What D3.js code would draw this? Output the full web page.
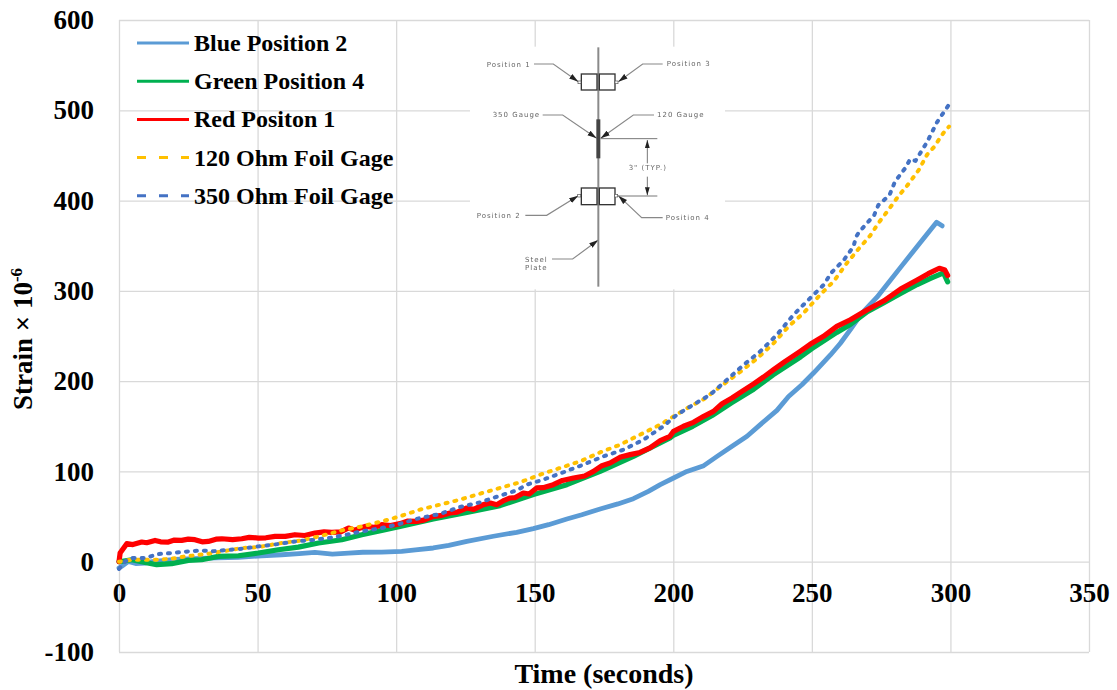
<!DOCTYPE html>
<html>
<head>
<meta charset="utf-8">
<script src="https://cdnjs.cloudflare.com/ajax/libs/d3/7.8.5/d3.min.js"></script>
<style>
    html, body { margin: 0; padding: 0; background: #fff; }
    text { font-family: "Liberation Serif", serif; font-weight: bold; fill: #000; }
    .inset text { font-family: "DejaVu Sans", sans-serif; font-weight: normal; fill: #666; }
</style>
</head>
<body>
<div id="chart"></div>
<script>
const xTicks = [0, 50, 100, 150, 200, 250, 300, 350];
const yTicks = [-100, 0, 100, 200, 300, 400, 500, 600];

const blueTime = [0, 1, 3.4, 6, 9.4, 12, 16.6, 20, 25, 32, 43, 51.5, 58.7, 65, 70.7, 77, 82.8, 88, 94.8, 102, 107, 113.4, 119, 125.5, 135.1, 143.5, 149.5, 155, 161.6, 167, 173.6, 180, 185.6, 191, 195.3, 200.1, 204.9, 211, 215.8, 221.2, 226.6, 231.4, 237.4, 241.6, 246.4, 250.6, 256.7, 260.3, 263.9, 268, 273.5, 282, 289, 295, 297];
const blueStrain = [-7, -5, 0.4, -2, -1.5, 0, 1.5, 2.5, 3, 4, 4.8, 6.6, 7.7, 9, 10.3, 8.5, 9.6, 10.5, 10.7, 11.4, 13, 15.2, 18, 22.6, 28.2, 32.6, 36.6, 41, 47.3, 52, 58.4, 64, 69.8, 78, 85.4, 92.7, 100, 106.4, 116.7, 127.8, 138.9, 151.8, 167.6, 183, 196, 209, 229, 242, 257, 275, 293, 326, 353, 376, 372];

const redTime = [0, 0.4, 2.8, 5, 8.2, 10, 13, 15, 17.8, 20, 22.6, 25, 27.4, 30, 32.2, 35, 37.1, 41, 44.3, 47, 50.3, 53, 56.3, 60, 63.5, 67, 70.7, 74, 76.8, 80, 82.8, 85, 88.8, 92, 94.8, 98, 101.4, 104, 107.4, 110, 113.4, 116, 119.4, 122, 125.5, 128, 131.5, 134, 136.3, 139, 141.1, 143, 145.9, 148, 150.7, 153, 156.7, 160, 164, 168, 171.2, 174, 177.2, 181, 184.4, 188, 191.6, 195.3, 198.8, 200.1, 203.7, 207.3, 211, 214.5, 217.6, 221.2, 224.8, 229, 232.6, 236.2, 240.4, 245.8, 250, 254.2, 259, 263.9, 270, 276, 282, 288, 292, 296, 298, 299];
const redStrain = [0, 9.6, 20, 19, 21.8, 21, 23.6, 22, 21.8, 24, 23.6, 25, 24.4, 22, 22.5, 25, 25.4, 24.5, 25.4, 27, 26.2, 26.5, 28, 28, 29.9, 29, 31.7, 33, 32.5, 33, 37.3, 35, 39.1, 38, 41, 40, 42.2, 45, 44.7, 46, 50.3, 51, 54, 55, 59.5, 58, 63.2, 65, 63.2, 68, 70.6, 71, 76.1, 75, 81.7, 82, 85.3, 90, 92.7, 95, 100, 106, 109.3, 116, 118.6, 121, 126, 134, 138.9, 144.4, 150, 154.4, 161, 166.5, 175, 181.3, 188.7, 197, 204.6, 212.7, 221.9, 233, 242, 249.6, 260.6, 268, 279, 289, 302, 312, 319, 325, 323, 317];

const greenTime = [0, 4.6, 9.4, 13.6, 19, 25, 29.8, 35.9, 43.1, 50.3, 57.5, 64.7, 72, 80.4, 87.6, 94.8, 101.4, 113.4, 125.5, 137.5, 149.5, 161.6, 173.6, 185.6, 198.8, 200, 207, 214, 221, 229, 236, 246, 250, 259, 264, 270, 276, 282, 288, 293, 297.5, 299];
const greenStrain = [0, 2.2, -0.7, -3.3, -2.2, 1.5, 2.2, 5.9, 6.6, 9.6, 13.3, 16.2, 20.7, 24.3, 29.9, 34.7, 39, 47.3, 54.7, 62.1, 74.3, 85.3, 100, 116.7, 137, 140, 150, 162, 176, 191, 207, 227, 236, 254, 263, 277, 287, 297, 307, 314, 320, 310];

const yellowTime = [0, 4.6, 13.6, 19, 23.8, 27.4, 32.2, 37.1, 44.3, 50.3, 58.7, 65.9, 73.2, 80.4, 87.6, 94.8, 101.4, 108.6, 115.8, 123, 130.3, 137.5, 144.7, 151.9, 159.1, 166.4, 173.6, 180.8, 188, 195.3, 200.1, 206.1, 211, 217, 223.6, 230.2, 236.2, 241.6, 247, 253, 258, 262.7, 267, 271, 274, 277.7, 281, 284.5, 288.6, 291.6, 294, 297.5, 299.5];
const yellowStrain = [0, 2.2, 2.2, 3.3, 5.9, 7, 8.8, 11.4, 15.1, 16.2, 20.7, 23.6, 28.8, 34.7, 39.1, 44.6, 50.3, 57.7, 63.2, 68.7, 75.4, 81.7, 88, 96.4, 103.8, 111.2, 121.1, 129.6, 140.7, 151.8, 161, 172, 180, 194, 209, 225, 242, 260.6, 275.4, 295.7, 311, 331, 347, 361, 375, 390, 404, 417, 434, 451, 459, 475, 482];

const navyTime = [0, 2.2, 4.6, 9.4, 14.2, 19, 25, 29.8, 33.5, 37.1, 44.3, 50.3, 57.5, 63.5, 70.7, 78, 87.6, 94.8, 101.4, 108.6, 115.8, 123, 130.3, 137.5, 143.5, 147.1, 153.1, 160.3, 167.5, 174.8, 182, 189.2, 196.4, 201.3, 207.3, 213.3, 219.4, 225.4, 231.4, 237.4, 243.4, 249.4, 254.3, 257, 261.5, 265, 266, 267, 270.5, 272.5, 274, 278, 280, 283.7, 285.5, 287.4, 291.6, 293.4, 295.2, 299.4];
const navyStrain = [-8, 0.4, 4, 4, 8.5, 9.6, 11.4, 12.5, 11.4, 12.5, 14.4, 17, 19.6, 22.5, 24.3, 27.3, 33.6, 37.3, 42, 48.4, 52.9, 60.6, 65.8, 73.2, 79, 85.3, 90.9, 99, 107.5, 116.7, 124, 135, 150, 162.8, 174, 185, 201.6, 218, 233, 251.4, 273.6, 292, 306.8, 320, 334, 349, 360, 365, 377, 384, 395, 406, 421, 436, 446, 444, 465, 476, 487, 506];

const legendLabels = ['Blue Position 2', 'Green Position 4', 'Red Positon 1', '120 Ohm Foil Gage', '350 Ohm Foil Gage'];
const legendColors = ['#5b9bd5', '#00b050', '#ff0000', '#ffc000', '#4472c4'];
const legendDashes = [null, null, null, '9 13', '9 13'];

const margin = { top: 20, left: 119, bottom: 38, right: 28 };
const fullWidth = 1117;
const fullHeight = 690;
const width = fullWidth - margin.left - margin.right;
const height = fullHeight - margin.top - margin.bottom;

const svg = d3.select('#chart')
    .append('svg')
        .attr('width', fullWidth)
        .attr('height', fullHeight)
        .style('display', 'block')
    .append('g')
        .attr('transform', `translate(${margin.left}, ${margin.top})`);

const xScale = d3.scaleLinear().domain([0, 350]).range([0, width]);
const yScale = d3.scaleLinear().domain([-100, 600]).range([height, 0]);

// gridlines
const gridColor = '#d9d9d9';
const xGrid = svg.append('g')
    .call(d3.axisBottom(xScale).tickValues(xTicks).tickSize(height).tickFormat(''));
const yGrid = svg.append('g')
    .call(d3.axisLeft(yScale).tickValues(yTicks).tickSize(-width).tickFormat(''));
[xGrid, yGrid].forEach(g => {
    g.select('.domain').remove();
    g.selectAll('line').attr('stroke', gridColor).attr('stroke-width', 1.3);
});

// tick labels
const xAxis = svg.append('g')
    .attr('transform', `translate(0, ${yScale(0)})`)
    .call(d3.axisBottom(xScale).tickValues(xTicks).tickSize(0).tickPadding(21));
xAxis.select('.domain').remove();
xAxis.selectAll('text').style('font-size', '27px');

const yAxis = svg.append('g')
    .call(d3.axisLeft(yScale).tickValues(yTicks).tickSize(0).tickPadding(25).tickFormat(d => String(d)));
yAxis.select('.domain').remove();
yAxis.selectAll('text').style('font-size', '27px');

// strain gauge sketch, in units of a 3x view
const inset = svg.append('g')
    .attr('class', 'inset')
    .attr('transform', `translate(${470 - margin.left}, ${30 - margin.top}) scale(${1 / 3})`);

inset.append('rect')
    .attr('x', 0).attr('y', 50).attr('width', 765).attr('height', 728)
    .attr('fill', '#fff');

const sketch = inset.append('g').style('filter', 'blur(0.6px)');

sketch.append('marker')
    .attr('id', 'head')
    .attr('viewBox', '0 0 10 6')
    .attr('refX', 10).attr('refY', 3)
    .attr('markerWidth', 8).attr('markerHeight', 5)
    .attr('orient', 'auto')
    .append('path')
        .attr('d', 'M0,0L10,3L0,6Z')
        .attr('fill', '#222');

const leaders = [
    [[192, 102], [250, 102], [325, 155]],
    [[578, 102], [518, 102], [445, 155]],
    [[218, 255], [278, 255], [380, 325]],
    [[552, 255], [490, 255], [392, 325]],
    [[166, 556], [230, 556], [325, 497]],
    [[578, 563], [515, 563], [445, 497]],
    [[246, 687], [308, 687], [385, 630]]
];
sketch.selectAll('.leader')
    .data(leaders)
    .enter()
    .append('path')
        .attr('class', 'leader')
        .attr('d', d3.line())
        .attr('fill', 'none')
        .attr('stroke', '#888')
        .attr('stroke-width', 3.5)
        .attr('marker-end', 'url(#head)');

const dimLines = [
    [[392, 326], [562, 326]],
    [[440, 498], [562, 498]]
];
sketch.selectAll('.dim')
    .data(dimLines)
    .enter()
    .append('path')
        .attr('class', 'dim')
        .attr('d', d3.line())
        .attr('stroke', '#777')
        .attr('stroke-width', 3);

const dimArrows = [
    [[532, 400], [532, 330]],
    [[532, 440], [532, 496]]
];
sketch.selectAll('.dim-arrow')
    .data(dimArrows)
    .enter()
    .append('path')
        .attr('class', 'dim-arrow')
        .attr('d', d3.line())
        .attr('stroke', '#777')
        .attr('stroke-width', 3)
        .attr('marker-end', 'url(#head)');

sketch.append('line')
    .attr('x1', 385).attr('x2', 385).attr('y1', 52).attr('y2', 770)
    .attr('stroke', '#8a8a8a').attr('stroke-width', 6);
sketch.append('line')
    .attr('x1', 385).attr('x2', 385).attr('y1', 268).attr('y2', 385)
    .attr('stroke', '#444').attr('stroke-width', 12);

const blocks = [[334, 132], [388, 132], [334, 474], [388, 474]];
sketch.selectAll('.block')
    .data(blocks)
    .enter()
    .append('rect')
        .attr('class', 'block')
        .attr('x', d => d[0]).attr('y', d => d[1])
        .attr('width', 47).attr('height', d => d[1] < 300 ? 48 : 50)
        .attr('fill', '#fff').attr('stroke', '#333').attr('stroke-width', 4);

const pads = [[329, 157], [440, 157], [328, 497], [439, 497]];
sketch.selectAll('.pad')
    .data(pads)
    .enter()
    .append('rect')
        .attr('class', 'pad')
        .attr('x', d => d[0] - 5).attr('y', d => d[1] - 4)
        .attr('width', 9).attr('height', 8)
        .attr('fill', '#fff').attr('stroke', '#555').attr('stroke-width', 2);

const insetLabels = [
    ['Position 1', 50, 110], ['Position 3', 590, 109],
    ['350 Gauge', 68, 262], ['120 Gauge', 561, 260],
    ['3" (TYP.)', 476, 421],
    ['Position 2', 20, 563], ['Position 4', 587, 571],
    ['Steel', 165, 695], ['Plate', 165, 721]
];
sketch.selectAll('.inset-label')
    .data(insetLabels)
    .enter()
    .append('text')
        .attr('class', 'inset-label')
        .attr('x', d => d[1]).attr('y', d => d[2])
        .style('font-size', '21px')
        .style('letter-spacing', '3px')
        .text(d => d[0]);

// series
const line = d3.line()
    .x(d => xScale(d[0]))
    .y(d => yScale(d[1]));

const series = [
    { time: blueTime, strain: blueStrain, color: legendColors[0], w: 4.8, dash: null },
    { time: greenTime, strain: greenStrain, color: legendColors[1], w: 5.2, dash: null },
    { time: redTime, strain: redStrain, color: legendColors[2], w: 5.2, dash: null },
    { time: yellowTime, strain: yellowStrain, color: legendColors[3], w: 4, dash: '2 7' },
    { time: navyTime, strain: navyStrain, color: legendColors[4], w: 4, dash: '2 7' }
];

svg.selectAll('.series')
    .data(series)
    .enter()
    .append('path')
        .attr('class', 'series')
        .attr('d', d => line(d.time.map((t, i) => [t, d.strain[i]])))
        .attr('fill', 'none')
        .attr('stroke', d => d.color)
        .attr('stroke-width', d => d.w)
        .attr('stroke-linecap', 'round')
        .attr('stroke-linejoin', 'round')
        .attr('stroke-dasharray', d => d.dash);

// legend
const legend = svg.selectAll('.legend-row')
    .data(legendLabels)
    .enter()
    .append('g')
        .attr('class', 'legend-row')
        .attr('transform', (d, i) => `translate(0, ${23 + i * 38.2})`);

legend.append('line')
    .attr('x1', 18).attr('x2', 70)
    .attr('stroke', (d, i) => legendColors[i])
    .attr('stroke-width', 3)
    .attr('stroke-dasharray', (d, i) => legendDashes[i]);

legend.append('text')
    .attr('x', 75)
    .attr('y', 8)
    .style('font-size', '24px')
    .text(d => d);

// axis titles
svg.append('text')
    .attr('x', 604 - margin.left)
    .attr('y', 683 - margin.top)
    .style('text-anchor', 'middle')
    .style('font-size', '28px')
    .text('Time (seconds)');

const yTitle = svg.append('text')
    .attr('transform', `translate(${32 - margin.left}, ${410 - margin.top}) rotate(-90)`)
    .style('font-size', '27px')
    .text('Strain × 10');
yTitle.append('tspan')
    .attr('dy', -10)
    .style('font-size', '17px')
    .text('-6');
</script>
</body>
</html>
